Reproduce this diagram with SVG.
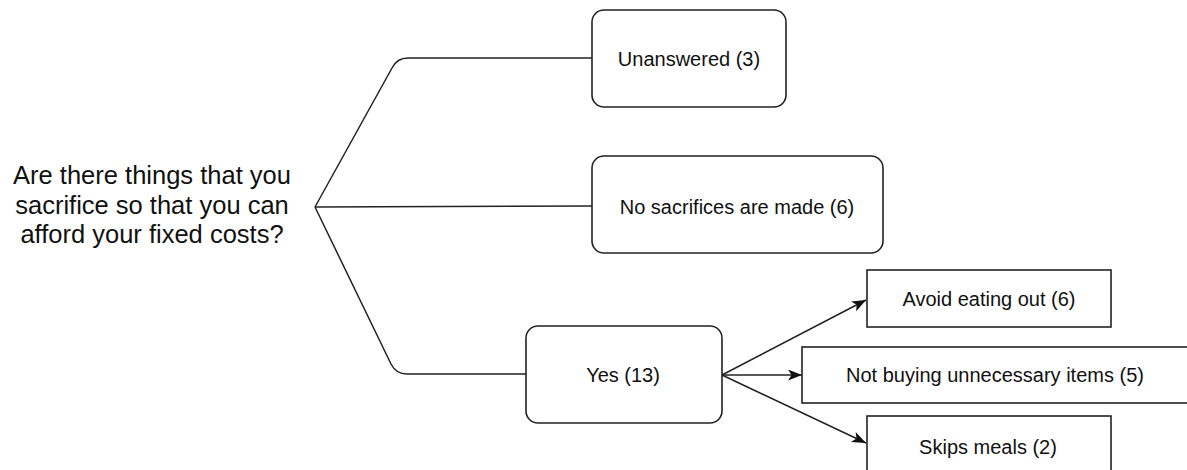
<svg xmlns="http://www.w3.org/2000/svg" width="1187" height="470" viewBox="0 0 1187 470">
  <style>
    .box { fill: #ffffff; stroke: #222222; stroke-width: 1.6; }
    .lbl { font-family: "Liberation Sans", Arial, sans-serif; font-size: 20px; fill: #111111; text-anchor: middle; }
    .q { font-family: "Liberation Sans", Arial, sans-serif; font-size: 25.5px; fill: #111111; text-anchor: middle; }
    .edge { fill: none; stroke: #222222; stroke-width: 1.5; }
  </style>
  <defs>
    <marker id="arrow" viewBox="0 0 14 11" refX="14" refY="5.5" markerWidth="14" markerHeight="11" markerUnits="userSpaceOnUse" orient="auto">
      <path d="M0,0 L14,5.5 L0,11 L3.5,5.5 Z" fill="#111111"/>
    </marker>
  </defs>
  <rect width="1187" height="470" fill="#ffffff"/>

  <g id="connectors">
    <path class="edge" d="M315,207 L392,68 Q397,58 408,58 L592,58"/>
    <path class="edge" d="M315,207 L592,206"/>
    <path class="edge" d="M315,207 L391,364 Q396,374 407,374 L526,374"/>
    <path class="edge" d="M722,375 L866,300" marker-end="url(#arrow)"/>
    <path class="edge" d="M722,375 L802,375" marker-end="url(#arrow)"/>
    <path class="edge" d="M722,375 L866,443" marker-end="url(#arrow)"/>
  </g>

  <g id="question">
    <text class="q" x="152" y="184">Are there things that you</text>
    <text class="q" x="152" y="214">sacrifice so that you can</text>
    <text class="q" x="152" y="243">afford your fixed costs?</text>
  </g>

  <g id="unanswered">
    <rect class="box" x="592" y="10" width="194" height="97" rx="12"/>
    <text class="lbl" x="689" y="66">Unanswered (3)</text>
  </g>

  <g id="no-sacrifices">
    <rect class="box" x="592" y="156" width="291" height="97" rx="12"/>
    <text class="lbl" x="737" y="214">No sacrifices are made (6)</text>
  </g>

  <g id="yes">
    <rect class="box" x="526" y="326" width="196" height="97" rx="12"/>
    <text class="lbl" x="623" y="382">Yes (13)</text>
  </g>

  <g id="avoid-eating-out">
    <rect class="box" x="867" y="270" width="244" height="57"/>
    <text class="lbl" x="989" y="306">Avoid eating out (6)</text>
  </g>

  <g id="not-buying">
    <rect class="box" x="802" y="347" width="390" height="56"/>
    <text class="lbl" x="995" y="382">Not buying unnecessary items (5)</text>
  </g>

  <g id="skips-meals">
    <rect class="box" x="867" y="416" width="244" height="58"/>
    <text class="lbl" x="988" y="454">Skips meals (2)</text>
  </g>
</svg>
